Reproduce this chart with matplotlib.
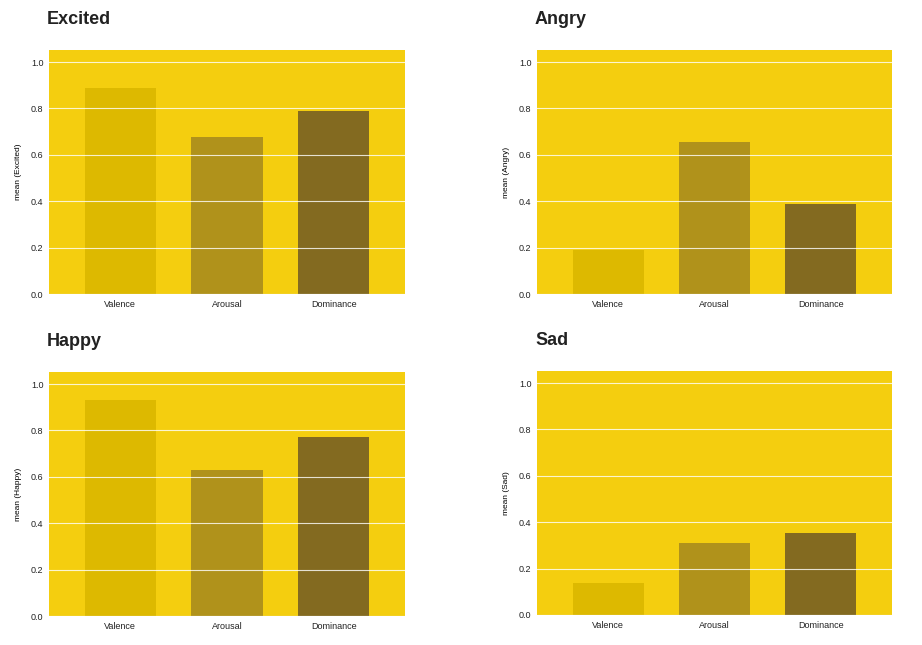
import matplotlib.pyplot as plt
import numpy as np

plt.rcParams['font.family'] = ['Liberation Sans', 'DejaVu Sans']

# data
emotions = ['Excited', 'Angry', 'Happy', 'Sad']
dims = ['Valence', 'Arousal', 'Dominance']
excited = [0.888, 0.677, 0.789]
angry = [0.19, 0.655, 0.388]
happy = [0.931, 0.631, 0.773]
sad = [0.137, 0.309, 0.352]
values = [excited, angry, happy, sad]

bg = '#F4CE0F'
bar_colors = ['#DDB900', '#B0921B', '#836A20']

fig = plt.figure(figsize=(9.22, 6.45), dpi=100)
W, H = 922, 645

# axes boxes in pixels: left, top, right, bottom
boxes = [(49, 50, 405, 294), (537, 50, 892, 294),
         (49, 372, 405, 616), (537, 371, 892, 615)]

for name, vals, (l, t, r, b) in zip(emotions, values, boxes):
    ax = fig.add_axes([l / W, 1 - b / H, (r - l) / W, (b - t) / H])
    ax.set_facecolor(bg)
    x = np.arange(len(dims))
    ax.bar(x, vals, width=0.667, color=bar_colors, zorder=1)
    ax.set_xlim(-0.667, 2.667)
    ax.set_ylim(0, 1.052)
    ax.set_yticks([0, 0.2, 0.4, 0.6, 0.8, 1.0])
    ax.set_yticklabels(['0.0', '0.2', '0.4', '0.6', '0.8', '1.0'])
    ax.set_xticks(x)
    ax.set_xticklabels(dims)
    ax.tick_params(axis='both', length=0, labelsize=6.5, colors='#222222', pad=4)
    ax.yaxis.grid(True, color='white', linewidth=0.8, alpha=0.8, zorder=2)
    ax.set_axisbelow(False)
    for s in ax.spines.values():
        s.set_visible(False)
    ax.axhline(0, color='#e0e0e0', linewidth=0.8, zorder=3)
    ax.set_ylabel('mean (%s)' % name, fontsize=6, labelpad=6)
    ax.text((l - 2) / W, 1 - (t - 31) / H, name, transform=fig.transFigure,
            fontsize=13, fontweight='bold', color='#222222', va='center', ha='left')

fig.savefig('out.png', dpi=100)
